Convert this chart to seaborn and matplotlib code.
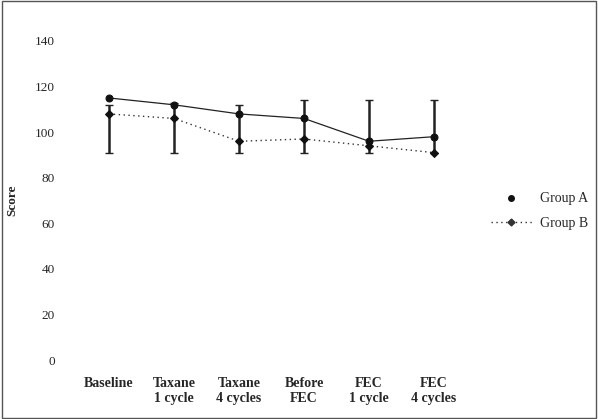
import matplotlib
matplotlib.use("Agg")
import matplotlib.pyplot as plt
from matplotlib.lines import Line2D
from matplotlib.patches import Rectangle
import seaborn as sns
import pandas as pd
import numpy as np

categories = ["Baseline", "Taxane\n1 cycle", "Taxane\n4 cycles", "Before\nFEC", "FEC\n1 cycle", "FEC\n4 cycles"]
group_a = [115, 112, 108, 106, 96, 98]
group_b = [108, 106, 96, 97, 94, 91]
err_low = [91, 91, 91, 91, 91, 91]
err_high = [112, 113, 112, 114, 114, 114]
yticks = [0, 20, 40, 60, 80, 100, 120, 140]

sns.set_theme(style="white")
plt.rcParams["font.family"] = ["Liberation Serif", "DejaVu Serif"]

fig = plt.figure(figsize=(5.98, 4.19), dpi=100)
ax = fig.add_axes([70/598, (419-371.4)/419, 403/598, (371.4-29.6)/419])

x = np.arange(len(categories))
df = pd.DataFrame({"x": np.concatenate([x, x]),
                   "score": group_a + group_b,
                   "group": ["Group A"]*len(x) + ["Group B"]*len(x)})

# error bars (range)
mid = (np.array(err_low) + np.array(err_high)) / 2
half = (np.array(err_high) - np.array(err_low)) / 2
ax.errorbar(x, mid, yerr=half, fmt="none", ecolor="#222222", elinewidth=1.8,
            capsize=3, capthick=1.0, zorder=2)

sns.lineplot(data=df[df.group == "Group A"], x="x", y="score", ax=ax,
             color="#222222", linewidth=0.9, marker="o", markersize=5,
             markeredgecolor="#111111", markerfacecolor="#111111", zorder=3)
sns.lineplot(data=df[df.group == "Group B"], x="x", y="score", ax=ax,
             color="#333333", linewidth=1.0, linestyle=(0, (1, 2.5)), marker="D",
             markersize=4, markeredgecolor="#111111", markerfacecolor="#111111", zorder=3)

ax.set_xlim(-0.6, 5.6)
ax.set_ylim(-5, 145)
ax.set_xticks(x)
ax.set_xticklabels(categories, fontsize=10, fontweight="bold", linespacing=1.25)
ax.set_yticks(yticks)
ax.set_yticklabels([str(t) for t in yticks], fontsize=9.5)
ax.tick_params(axis="x", length=0, pad=4)
ax.tick_params(axis="y", length=0, pad=11)
ax.set_xlabel("")
ax.set_ylabel("Score", fontsize=9.5, fontweight="bold")
ax.yaxis.set_label_coords((18 - 70) / 403, 0.5)
for s in ax.spines.values():
    s.set_visible(False)
ax.grid(False)

handles = [Line2D([], [], color="#111111", marker="o", linestyle="none", markersize=4),
           Line2D([], [], color="#333333", marker="D", linestyle=(0, (1, 2.5)), markersize=3.5,
                  linewidth=1.0)]
fig.legend(handles, ["Group A", "Group B"], loc="center left",
           bbox_to_anchor=(478/598, 1 - 211/419), frameon=False, fontsize=10,
           handlelength=3, handletextpad=0.6, labelspacing=0.8)

fig.patches.append(Rectangle((0.003, 0.003), 0.994, 0.994, transform=fig.transFigure,
                             fill=False, edgecolor="#555555", linewidth=1.0))

fig.savefig("out.png", dpi=100)
